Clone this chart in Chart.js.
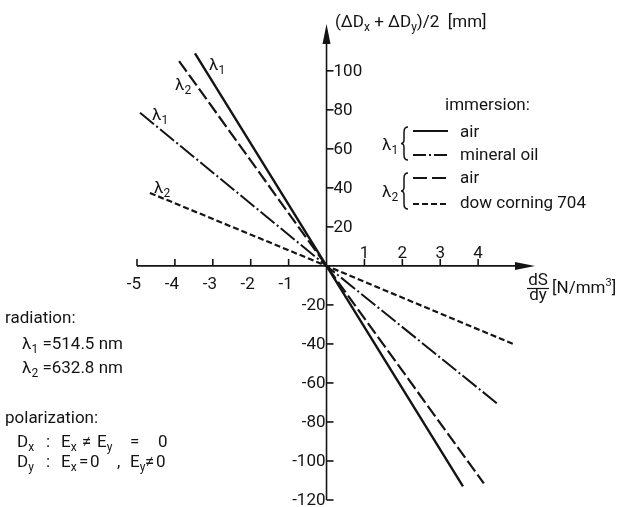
<!DOCTYPE html>
<html>
<head>
<meta charset="utf-8">
<script src="https://cdn.jsdelivr.net/npm/chart.js@4.4.0/dist/chart.umd.min.js"></script>
<style>
  html, body { margin: 0; padding: 0; background: #fff; }
  canvas { display: block; }
</style>
</head>
<body>
<canvas id="chart" width="640" height="507"></canvas>
<script>
const INK = '#141414'
const FONT = 'Roboto, "DejaVu Sans", sans-serif'

// x = dS/dy [N/mm^3], y = (dDx + dDy)/2 [mm]; end points
const l1AirX = [-3.47, 0, 3.6]
const l1AirY = [109, 0, -113]
const l1OilX = [-4.92, 0, 4.55]
const l1OilY = [78.5, 0, -71.3]
const l2AirX = [-3.89, 0, 4.15]
const l2AirY = [105, 0, -111.5]
const l2DowX = [-4.66, 0, 4.92]
const l2DowY = [37.4, 0, -40]

const xTicks = [-5, -4, -3, -2, -1, 1, 2, 3, 4]
const yTicks = [100, 80, 60, 40, 20, -20, -40, -60, -80, -100, -120]

const SOLID = []
const DASH_DOT = [18, 3, 2, 3]
const LONG_DASH = [13, 4]
const SHORT_DASH = [6, 3]

function points(xs, ys) {
    return xs.map((x, i) => ({x: x, y: ys[i]}))
}

function series(label, xs, ys, dash, width) {
    return {
        label: label,
        data: points(xs, ys),
        showLine: true,
        borderColor: INK,
        borderWidth: width,
        borderDash: dash,
        pointRadius: 0,
        clip: false,
    }
}

// text with sub/superscripts, parts = [[text, 'sub'|'sup'|undefined], ...]
function richText(ctx, parts, x, y, size) {
    size = size || 17
    parts.forEach(p => {
        const txt = p[0], kind = p[1]
        let s = size, dy = 0
        if (kind === 'sub') { s = Math.round(size * 0.68); dy = 4 }
        if (kind === 'sup') { s = Math.round(size * 0.62); dy = -7 }
        ctx.font = s + 'px ' + FONT
        ctx.fillText(txt, x, y + dy)
        x += ctx.measureText(txt).width
    })
    return x
}

function brace(ctx, x, top, bottom) {
    const mid = (top + bottom) / 2
    ctx.beginPath()
    ctx.moveTo(x + 7, top)
    ctx.quadraticCurveTo(x + 3, top, x + 3, top + 5)
    ctx.lineTo(x + 3, mid - 4)
    ctx.quadraticCurveTo(x + 3, mid, x, mid)
    ctx.quadraticCurveTo(x + 3, mid, x + 3, mid + 4)
    ctx.lineTo(x + 3, bottom - 5)
    ctx.quadraticCurveTo(x + 3, bottom, x + 7, bottom)
    ctx.stroke()
}

function sample(ctx, x1, x2, y, dash, width) {
    ctx.save()
    ctx.setLineDash(dash)
    ctx.lineWidth = width
    ctx.beginPath()
    ctx.moveTo(x1, y)
    ctx.lineTo(x2, y)
    ctx.stroke()
    ctx.restore()
}

const crossAxes = {
    id: 'crossAxes',
    beforeDatasetsDraw(chart) {
        const {ctx, scales: {x, y}} = chart
        const x0 = x.getPixelForValue(0)
        const y0 = y.getPixelForValue(0)
        ctx.save()
        ctx.strokeStyle = INK
        ctx.fillStyle = INK
        ctx.lineWidth = 1.6

        // horizontal axis with arrow
        const xl = x.getPixelForValue(-5)
        const xr = x.right
        ctx.beginPath()
        ctx.moveTo(xl, y0)
        ctx.lineTo(xr - 12, y0)
        ctx.stroke()
        ctx.beginPath()
        ctx.moveTo(xr, y0)
        ctx.lineTo(xr - 20, y0 - 4)
        ctx.lineTo(xr - 20, y0 + 4)
        ctx.closePath()
        ctx.fill()

        ctx.font = '17px ' + FONT
        ctx.textAlign = 'center'
        xTicks.forEach(v => {
            const px = x.getPixelForValue(v)
            ctx.beginPath()
            ctx.moveTo(px, y0)
            ctx.lineTo(px, y0 - 7)
            ctx.stroke()
            if (v < 0) {
                ctx.textBaseline = 'top'
                ctx.fillText(String(v), px - 3, y0 + 10)
            } else {
                ctx.textBaseline = 'alphabetic'
                ctx.fillText(String(v), px, y0 - 8)
            }
        })

        // vertical axis with arrow
        const yb = y.getPixelForValue(-120)
        const yt = y.top
        ctx.beginPath()
        ctx.moveTo(x0, yb)
        ctx.lineTo(x0, yt + 12)
        ctx.stroke()
        ctx.beginPath()
        ctx.moveTo(x0, yt)
        ctx.lineTo(x0 - 4, yt + 20)
        ctx.lineTo(x0 + 4, yt + 20)
        ctx.closePath()
        ctx.fill()

        ctx.textBaseline = 'middle'
        yTicks.forEach(v => {
            const py = y.getPixelForValue(v)
            ctx.beginPath()
            ctx.moveTo(x0, py)
            ctx.lineTo(x0 + 7, py)
            ctx.stroke()
            if (v > 0) {
                ctx.textAlign = 'left'
                ctx.fillText(String(v), x0 + 7, py + 1)
            } else {
                ctx.textAlign = 'right'
                ctx.fillText(String(v), x0 - 1, py + 1)
            }
        })
        ctx.restore()
    },
    afterDraw(chart) {
        const ctx = chart.ctx
        ctx.save()
        ctx.fillStyle = INK
        ctx.strokeStyle = INK
        ctx.textAlign = 'left'
        ctx.textBaseline = 'alphabetic'

        // axis titles
        richText(ctx, [['(ΔD'], ['x', 'sub'], [' + ΔD'], ['y', 'sub'], [')/2  [mm]']], 335, 27)
        ctx.font = '17px ' + FONT
        ctx.textAlign = 'center'
        ctx.fillText('dS', 538, 285)
        ctx.fillText('dy', 538, 300)
        ctx.lineWidth = 1.2
        ctx.beginPath()
        ctx.moveTo(527, 288.5)
        ctx.lineTo(549, 288.5)
        ctx.stroke()
        ctx.textAlign = 'left'
        richText(ctx, [['[N/mm'], ['3', 'sup'], [']']], 552, 293)

        // curve labels
        richText(ctx, [['λ'], ['1', 'sub']], 209, 70)
        richText(ctx, [['λ'], ['2', 'sub']], 175, 90)
        richText(ctx, [['λ'], ['1', 'sub']], 152, 120)
        richText(ctx, [['λ'], ['2', 'sub']], 154, 193)

        // legend
        ctx.font = '17px ' + FONT
        ctx.fillText('immersion:', 445, 110)
        richText(ctx, [['λ'], ['1', 'sub']], 382, 150)
        ctx.lineWidth = 1.5
        brace(ctx, 401, 127, 160)
        richText(ctx, [['λ'], ['2', 'sub']], 382, 197)
        brace(ctx, 401, 173, 209)
        sample(ctx, 413, 448, 131, SOLID, 2.2)
        sample(ctx, 413, 448, 155, [13, 3, 2, 3], 2)
        sample(ctx, 413, 448, 178, [14, 5], 2.2)
        sample(ctx, 413, 448, 204, [6, 3], 2)
        ctx.font = '17px ' + FONT
        ctx.fillText('air', 460, 137)
        ctx.fillText('mineral oil', 460, 160)
        ctx.fillText('air', 460, 183)
        ctx.fillText('dow corning 704', 460, 208)

        // left notes
        ctx.fillText('radiation:', 5, 323)
        richText(ctx, [['λ'], ['1', 'sub'], [' =514.5 nm']], 22, 349)
        richText(ctx, [['λ'], ['2', 'sub'], [' =632.8 nm']], 22, 373)
        ctx.font = '17px ' + FONT
        ctx.fillText('polarization:', 5, 423)

        // D_x : E_x != E_y = 0
        richText(ctx, [['D'], ['x', 'sub']], 17, 447)
        richText(ctx, [[':']], 46, 447)
        richText(ctx, [['E'], ['x', 'sub']], 61, 447)
        richText(ctx, [['≠']], 82, 447)
        richText(ctx, [['E'], ['y', 'sub']], 97, 447)
        richText(ctx, [['=']], 130, 447)
        richText(ctx, [['0']], 158, 447)
        // D_y : E_x = 0 , E_y != 0
        richText(ctx, [['D'], ['y', 'sub']], 17, 467)
        richText(ctx, [[':']], 46, 467)
        richText(ctx, [['E'], ['x', 'sub']], 61, 467)
        richText(ctx, [['=']], 79, 467)
        richText(ctx, [['0']], 90, 467)
        richText(ctx, [[',']], 117, 467)
        richText(ctx, [['E'], ['y', 'sub']], 130, 467)
        richText(ctx, [['≠']], 145, 467)
        richText(ctx, [['0']], 156, 467)
        ctx.restore()
    }
}

new Chart(document.getElementById('chart').getContext('2d'), {
    type: 'scatter',
    data: {
        datasets: [
            series('λ1 air', l1AirX, l1AirY, SOLID, 2.4),
            series('λ1 mineral oil', l1OilX, l1OilY, DASH_DOT, 2),
            series('λ2 air', l2AirX, l2AirY, LONG_DASH, 2.2),
            series('λ2 dow corning 704', l2DowX, l2DowY, SHORT_DASH, 2.2),
        ]
    },
    options: {
        responsive: false,
        animation: false,
        layout: {padding: {left: 137, right: 105, top: 24, bottom: 7}},
        scales: {
            x: {type: 'linear', min: -5, max: 5.5, display: false},
            y: {type: 'linear', min: -120, max: 124, display: false},
        },
        plugins: {
            legend: {display: false},
            tooltip: {enabled: false},
        }
    },
    plugins: [crossAxes]
})
</script>
</body>
</html>
